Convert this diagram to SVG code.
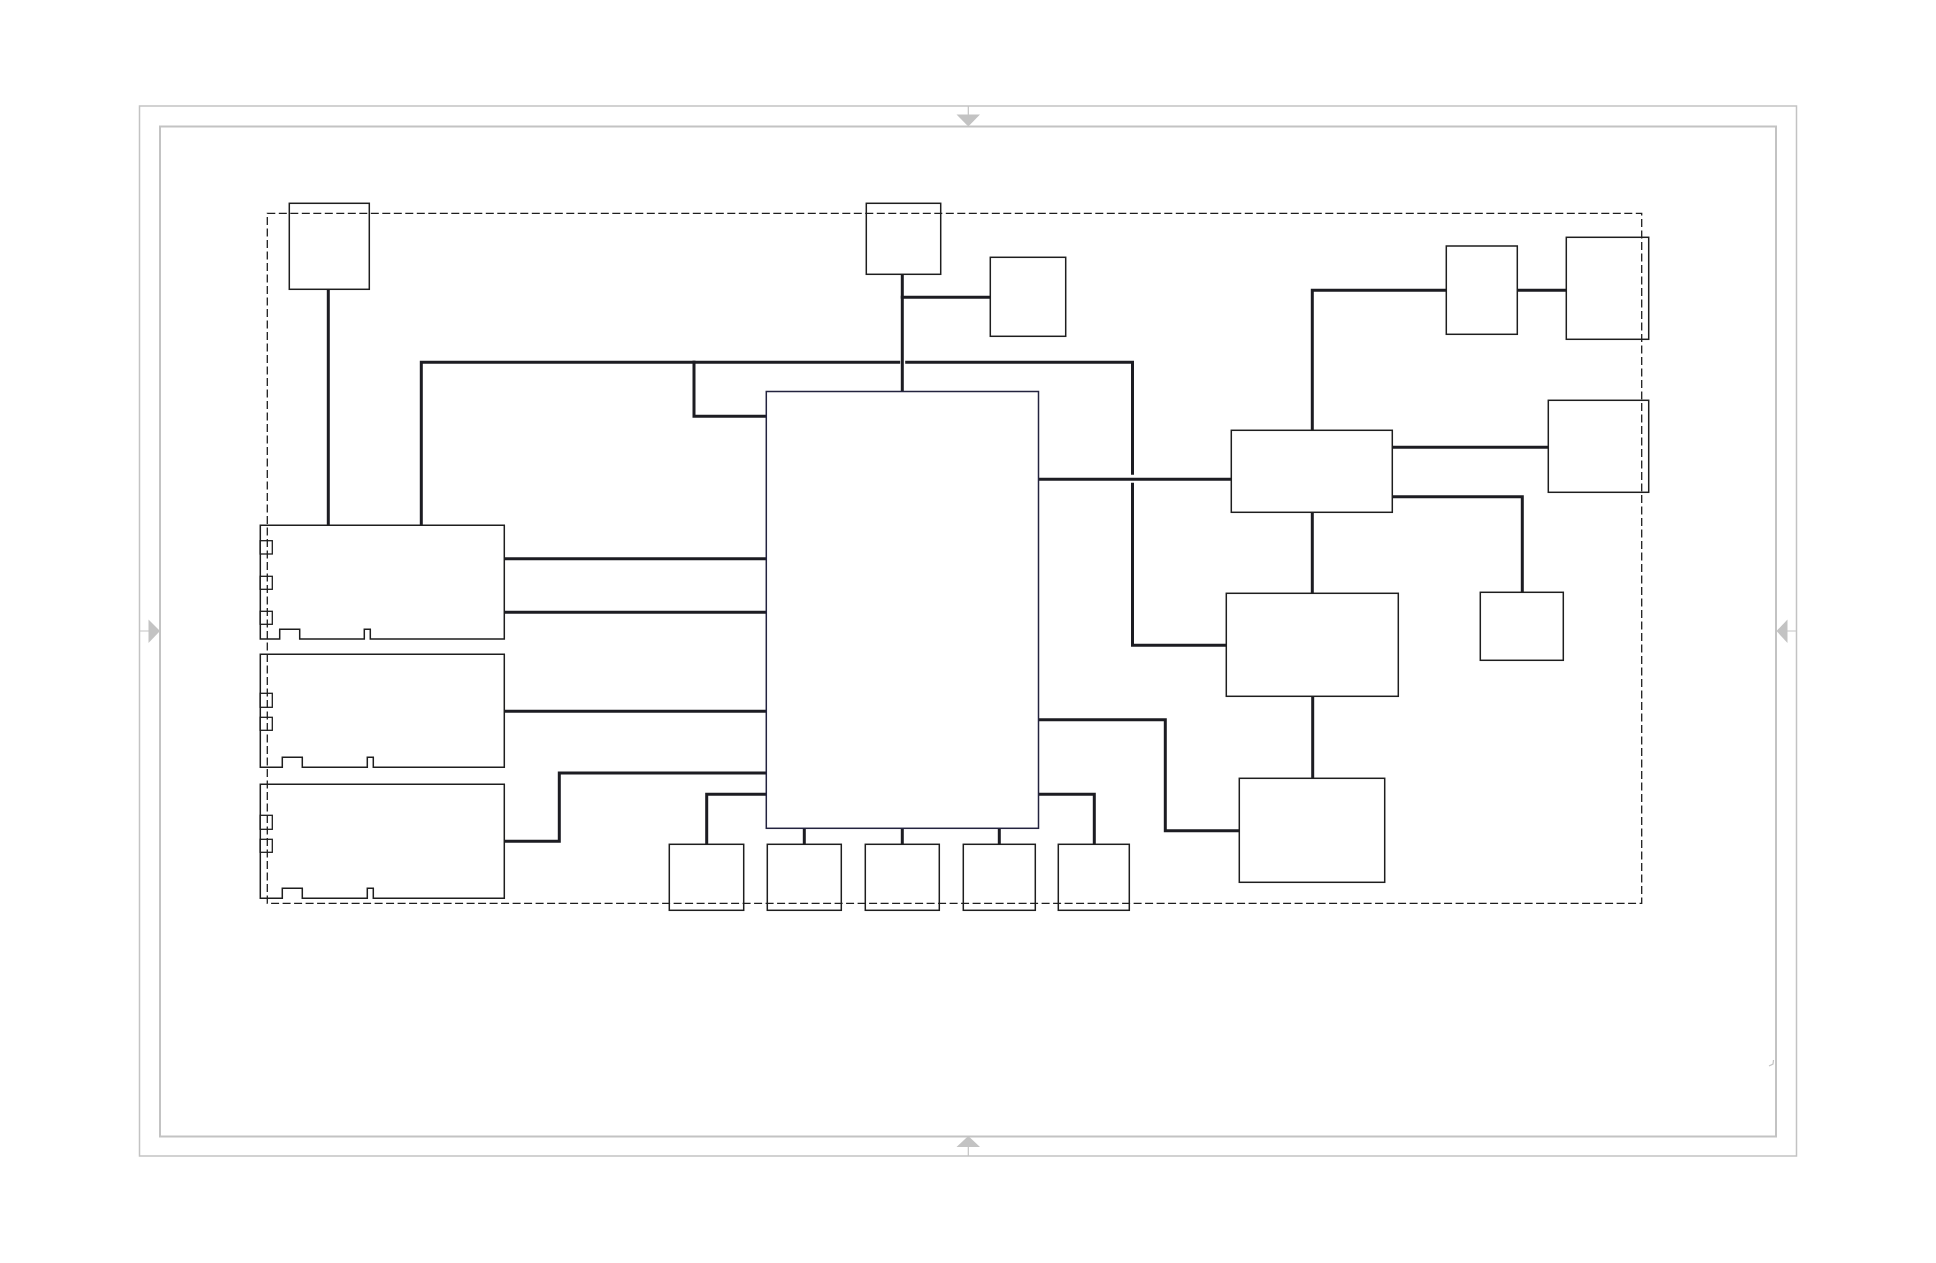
<svg xmlns="http://www.w3.org/2000/svg" width="1936" height="1263" viewBox="0 0 1936 1263">
<style>
.frame{fill:none;stroke:#c3c3c3;stroke-width:1.5}
.frame2{fill:none;stroke:#c3c3c3;stroke-width:2}
.gtri{fill:#c3c3c3;stroke:none}
.gl{stroke:#c3c3c3;stroke-width:1.2;fill:none}
.dash{fill:none;stroke:#1e1e1e;stroke-width:1.3;stroke-dasharray:8 3.5}
.box{fill:#fff;stroke:#1e1e1e;stroke-width:1.5}
.main{fill:#fff;stroke:#23233f;stroke-width:1.5}
.port{fill:#fff;stroke:#1e1e1e;stroke-width:1.3}
.wire{fill:none;stroke:#1c1c22;stroke-width:3;stroke-linecap:square;stroke-linejoin:miter}
</style>
<rect width="1936" height="1263" fill="#fff"/>
<g id="page-frame">
<rect class="frame" x="139.5" y="106" width="1657" height="1050"/>
<rect class="frame2" x="160" y="126.5" width="1616" height="1010"/>
<path class="gl" d="M968.3 106V115M968.3 1136V1156M139.5 631H150M1787 631H1796.5"/>
<polygon class="gtri" points="956.5,114.5 980,114.5 968.3,126.5"/>
<polygon class="gtri" points="956.5,1147 980,1147 968.3,1136"/>
<polygon class="gtri" points="148.5,619.5 148.5,643 160,631"/>
<polygon class="gtri" points="1787.5,619.5 1787.5,643 1776.5,631"/>
<path class="gl" d="M1769 1066L1773 1064L1773.5 1060"/>
</g>
<g id="connectors">
<path class="wire" d="M328.3 290V525"/>
<path class="wire" d="M421.3 525V362.3H898.7"/>
<path class="wire" d="M906.7 362.3H1132.5V473.3"/>
<path class="wire" d="M1132.5 484.3V645.3H1226"/>
<path class="wire" d="M694 362.3V416.3H766"/>
<path class="wire" d="M902.3 275V391.5"/>
<path class="wire" d="M902.3 297.3H990"/>
<path class="wire" d="M505 558.7H766"/>
<path class="wire" d="M505 612.3H766"/>
<path class="wire" d="M505 711.3H766"/>
<path class="wire" d="M505 841.3H559.3V773H766"/>
<path class="wire" d="M766 794.3H706.7V844"/>
<path class="wire" d="M804.3 829V844"/>
<path class="wire" d="M902.3 829V844"/>
<path class="wire" d="M999.3 829V844"/>
<path class="wire" d="M1039 794.3H1094.3V844"/>
<path class="wire" d="M1039 479.3H1231"/>
<path class="wire" d="M1039 719.7H1165.3V830.7H1239"/>
<path class="wire" d="M1312.3 430V290.3H1446"/>
<path class="wire" d="M1517.5 290.3H1566"/>
<path class="wire" d="M1392.5 447.3H1548"/>
<path class="wire" d="M1392.5 496.7H1522.3V592"/>
<path class="wire" d="M1312.3 512.5V593"/>
<path class="wire" d="M1312.7 696.5V778"/>
</g>
<g id="n-top-left"><rect class="box" x="289.3" y="203.3" width="80" height="86"/></g>
<g id="n-top-center"><rect class="box" x="866.3" y="203.3" width="74.4" height="71"/></g>
<g id="n-top-center-right"><rect class="box" x="990.3" y="257.3" width="75.4" height="79"/></g>
<g id="n-central"><rect class="main" x="766.3" y="391.5" width="272.2" height="436.8"/></g>
<g id="n-card1">
<path class="box" d="M260.3 525.3H504.3V639H370.3V629.3H364.3V639H299.7V629.3H279.7V639H260.3Z"/>
<rect class="port" x="260.3" y="540.7" width="12" height="13.3"/>
<rect class="port" x="260.3" y="576.3" width="12" height="13"/>
<rect class="port" x="260.3" y="611.3" width="12" height="13"/>
</g>
<g id="n-card2">
<path class="box" d="M260.3 654.3H504.3V767.3H373.3V757.3H367.3V767.3H302.3V757.3H282.3V767.3H260.3Z"/>
<rect class="port" x="260.3" y="693.3" width="12" height="14"/>
<rect class="port" x="260.3" y="717.3" width="12" height="13"/>
</g>
<g id="n-card3">
<path class="box" d="M260.3 784.3H504.3V898.3H373.3V888.3H367.3V898.3H302.3V888.3H282.3V898.3H260.3Z"/>
<rect class="port" x="260.3" y="815.3" width="12" height="14"/>
<rect class="port" x="260.3" y="839.3" width="12" height="13"/>
</g>
<g id="n-bottom1"><rect class="box" x="669.3" y="844.3" width="74.4" height="66"/></g>
<g id="n-bottom2"><rect class="box" x="767.3" y="844.3" width="74" height="66"/></g>
<g id="n-bottom3"><rect class="box" x="865.3" y="844.3" width="74" height="66"/></g>
<g id="n-bottom4"><rect class="box" x="963.3" y="844.3" width="72" height="66"/></g>
<g id="n-bottom5"><rect class="box" x="1058.3" y="844.3" width="71" height="66"/></g>
<g id="n-hub"><rect class="box" x="1231.3" y="430.3" width="161" height="82"/></g>
<g id="n-mid"><rect class="box" x="1226.3" y="593.3" width="172" height="103"/></g>
<g id="n-low"><rect class="box" x="1239.3" y="778.3" width="145.4" height="104"/></g>
<g id="n-tr1"><rect class="box" x="1446.3" y="246" width="71" height="88.3"/></g>
<g id="n-tr2"><rect class="box" x="1566.3" y="237.3" width="82.4" height="102"/></g>
<g id="n-r2"><rect class="box" x="1548.3" y="400.3" width="100.4" height="92"/></g>
<g id="n-r3"><rect class="box" x="1480.3" y="592.3" width="83" height="68"/></g>
<rect id="boundary" class="dash" x="267.3" y="213.3" width="1374.4" height="690"/>
</svg>
